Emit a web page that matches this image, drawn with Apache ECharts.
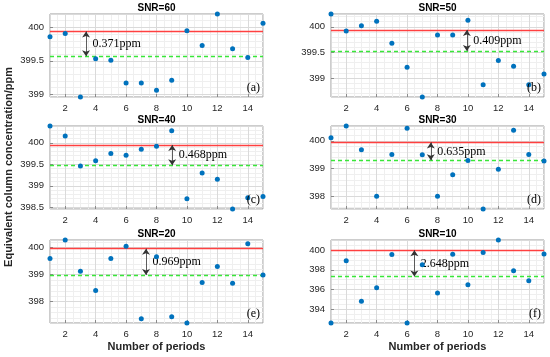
<!DOCTYPE html>
<html><head><meta charset="utf-8">
<script src="https://cdn.jsdelivr.net/npm/echarts@6/dist/echarts.min.js"></script>
<style>html,body{margin:0;padding:0;background:#fff}#c{width:550px;height:357px}</style>
</head><body><div id="c"></div>
<script>
// ---- data ----
const periods = [1, 2, 3, 4, 5, 6, 7, 8, 9, 10, 11, 12, 13, 14, 15];
const titles = ['SNR=60', 'SNR=50', 'SNR=40', 'SNR=30', 'SNR=20', 'SNR=10'];
const panelTags = ['(a)', '(b)', '(c)', '(d)', '(e)', '(f)'];
const snr60 = [399.86, 399.91, 398.96, 399.53, 399.51, 399.17, 399.17, 399.06, 399.21, 399.95, 399.73, 400.20, 399.68, 399.55, 400.06];
const snr50 = [400.25, 399.92, 400.02, 400.11, 399.68, 399.21, 398.63, 399.84, 399.84, 400.13, 398.87, 399.34, 399.23, 398.87, 399.08];
const snr40 = [400.39, 400.16, 399.46, 399.58, 399.75, 399.71, 399.85, 399.92, 400.28, 398.70, 399.30, 399.15, 398.46, 398.72, 398.75];
const snr30 = [400.11, 400.53, 399.68, 398.01, 399.51, 400.45, 399.50, 398.01, 398.78, 399.29, 397.55, 398.98, 400.38, 399.51, 399.27];
const snr20 = [399.60, 400.28, 399.12, 398.41, 399.60, 400.05, 397.37, 399.66, 397.44, 397.21, 398.71, 399.30, 398.68, 400.14, 398.99];
const snr10 = [392.64, 398.91, 394.83, 396.19, 399.53, 392.64, 398.51, 395.65, 399.56, 396.49, 399.73, 401.00, 397.91, 396.89, 399.60];
const trueLevel = [399.94, 399.94, 399.95, 399.94, 399.96, 399.97];   // red solid lines
const meanLevel = [399.57, 399.53, 399.48, 399.30, 398.99, 397.32];   // green dashed lines
const gapLabels = ['0.371ppm', '0.409ppm', '0.468ppm', '0.635ppm', '0.969ppm', '2.648ppm'];
const arrowX = [3.37, 9.93, 9.03, 7.56, 7.31, 6.48];
const yTickStep = [0.5, 0.5, 0.5, 1, 1, 2];
const yMinorStep = [0.1, 0.1, 0.1, 0.2, 0.2, 0.5];
const xTickStep = 2, xMinorStep = 0.5;
const xLabel = 'Number of periods';
const yLabel = 'Equivalent column concentration/ppm';

// ---- layout ----
const allSeries = [snr60, snr50, snr40, snr30, snr20, snr10];
const colLeft = [50, 331], plotW = 213;
const rowTop = [14, 126, 240], plotH = 83;
const SANS = 'Liberation Sans, Arial, sans-serif';
const SERIF = 'Liberation Serif, Times New Roman, serif';
const TICK_FONT = 9.5;

const grids = [], xAxes = [], yAxes = [], series = [], graphics = [];
allSeries.forEach((vals, i) => {
  const col = i % 2, row = Math.floor(i / 2);
  const L = colLeft[col], T = rowTop[row];
  grids.push({left: L, top: T, width: plotW, height: plotH, show: true,
    borderColor: '#9a9a9a', borderWidth: 1, backgroundColor: '#fff', containLabel: false});
  const ymin = Math.min(...vals), ymax = Math.max(...vals);
  xAxes.push({gridIndex: i, type: 'value', min: 1, max: 15, minInterval: xTickStep, maxInterval: xTickStep,
    axisLine: {show: false}, axisTick: {show: true, inside: true, length: 3, lineStyle: {color: '#8a8a8a'}},
    axisLabel: {fontSize: TICK_FONT, color: '#262626', margin: 6, fontFamily: SANS, showMinLabel: false, showMaxLabel: false},
    splitLine: {show: true, lineStyle: {color: '#dadada', width: 1}}, z: 2});
  xAxes.push({gridIndex: i, type: 'value', min: 1, max: 15, minInterval: xMinorStep, maxInterval: xMinorStep,
    axisLine: {show: false}, axisTick: {show: false}, axisLabel: {show: false},
    splitLine: {show: true, lineStyle: {color: '#efefef', width: 1}}, z: 1});
  yAxes.push({gridIndex: i, type: 'value', min: ymin, max: ymax, minInterval: yTickStep[i], maxInterval: yTickStep[i],
    axisLine: {show: false}, axisTick: {show: true, inside: true, length: 3, lineStyle: {color: '#8a8a8a'}},
    axisLabel: {fontSize: TICK_FONT, color: '#262626', margin: 6, fontFamily: SANS, showMinLabel: false, showMaxLabel: false},
    splitLine: {show: true, lineStyle: {color: '#dadada', width: 1}}, z: 2});
  yAxes.push({gridIndex: i, type: 'value', min: ymin, max: ymax, minInterval: yMinorStep[i], maxInterval: yMinorStep[i],
    axisLine: {show: false}, axisTick: {show: false}, axisLabel: {show: false},
    splitLine: {show: true, lineStyle: {color: '#efefef', width: 1}}, z: 1});

  const mid = (trueLevel[i] + meanLevel[i]) / 2;
  series.push({
    type: 'scatter', xAxisIndex: 2 * i, yAxisIndex: 2 * i, z: 5,
    data: periods.map((p, k) => [p, vals[k]]),
    symbolSize: 5, itemStyle: {color: '#0072BD', opacity: 1},
    markLine: {
      silent: true, animation: false, label: {show: false}, symbol: ['none', 'none'],
      emphasis: {disabled: true},
      data: [
        {yAxis: trueLevel[i], lineStyle: {color: '#ff4040', width: 1.3, type: 'solid'}},
        {yAxis: meanLevel[i], lineStyle: {color: '#39e639', width: 1.3, type: [4, 3]}},
        [{coord: [arrowX[i], meanLevel[i]], symbol: 'arrow', symbolSize: 6},
         {coord: [arrowX[i], trueLevel[i]], symbol: 'arrow', symbolSize: 6,
          lineStyle: {color: '#333', width: 0.8, type: 'solid'}}]
      ]
    },
    markPoint: {
      silent: true, animation: false,
      data: [{coord: [arrowX[i], mid], symbol: 'circle', symbolSize: 1, itemStyle: {color: 'rgba(0,0,0,0)'},
        label: {show: true, position: 'right', distance: 6, formatter: gapLabels[i],
          fontFamily: SERIF, fontSize: 12, color: '#000'}}]
    }
  });
  graphics.push({type: 'text', x: L + plotW / 2, y: T - 6, z: 10,
    style: {text: titles[i], font: 'bold 10px ' + SANS, fill: '#000', textAlign: 'center', textVerticalAlign: 'middle'}});
  graphics.push({type: 'text', x: L + plotW - 3, y: T + plotH - 3, z: 10,
    style: {text: panelTags[i], font: '12px ' + SERIF, fill: '#000', textAlign: 'right', textVerticalAlign: 'bottom'}});
  if (row === 2) {
    graphics.push({type: 'text', x: L + plotW / 2, y: 347, z: 10,
      style: {text: xLabel, font: 'bold 11px ' + SANS, fill: '#262626', textAlign: 'center', textVerticalAlign: 'middle'}});
  }
});
graphics.push({type: 'text', x: 9, y: 167, rotation: Math.PI / 2, z: 10,
  style: {text: yLabel, font: 'bold 11px ' + SANS, fill: '#262626', textAlign: 'center', textVerticalAlign: 'middle'}});

const chart = echarts.init(document.getElementById('c'), null, {renderer: 'canvas'});
chart.setOption({
  animation: false,
  backgroundColor: '#fff',
  grid: grids, xAxis: xAxes, yAxis: yAxes, series: series, graphic: graphics
});
</script></body></html>
